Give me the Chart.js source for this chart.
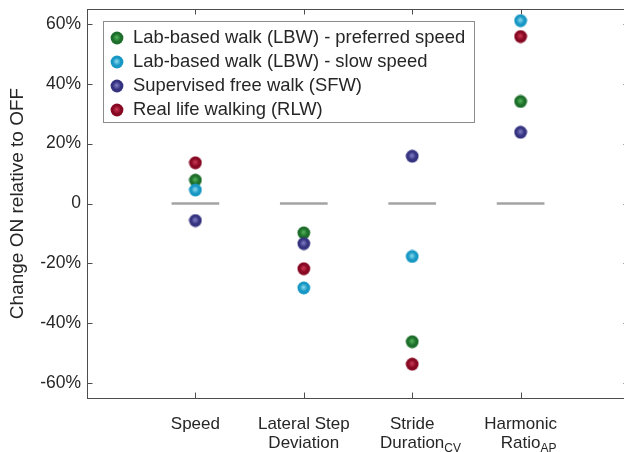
<!DOCTYPE html>
<html>
<head>
<meta charset="utf-8">
<script src="https://cdn.jsdelivr.net/npm/chart.js@4.4.1/dist/chart.umd.min.js"></script>
<style>
    html, body { margin: 0; padding: 0; background: #fff; overflow: hidden; }
    #wrap { width: 640px; height: 452px; }
</style>
</head>
<body>
<div id="wrap"><canvas id="chart" width="640" height="452"></canvas></div>
<script>
// categories and values (percent change ON vs OFF)
const categories = ['Speed', 'Lateral Step\nDeviation', 'Stride\nDuration_CV', 'Harmonic\nRatio_AP'];
const seriesNames = [
    'Lab-based walk (LBW) - preferred speed',
    'Lab-based walk (LBW) - slow speed',
    'Supervised free walk (SFW)',
    'Real life walking (RLW)'
];
const lbwPreferred = [7.8, -9.8, -46.2, 34.1];
const lbwSlow = [4.5, -28.2, -17.7, 61.1];
const sfw = [-5.7, -13.4, 15.8, 23.8];
const rlw = [13.6, -21.8, -53.7, 55.8];
const yTicks = [-60, -40, -20, 0, 20, 40, 60];
const baseline = 0;

// sphere-looking markers: [edge, light centre]
const markerColors = [
    ['#1d6e2a', '#55b85c'],
    ['#1797c4', '#8fdcf0'],
    ['#35337f', '#8482c8'],
    ['#860822', '#d03a58']
];

function makeSphere(edge, light) {
    const c = document.createElement('canvas');
    c.width = 14; c.height = 14;
    const ctx = c.getContext('2d');
    const g = ctx.createRadialGradient(6.6, 6.2, 0, 7, 7, 6.6);
    g.addColorStop(0, light);
    g.addColorStop(0.6, edge);
    g.addColorStop(1, edge);
    ctx.beginPath();
    ctx.arc(7, 7, 6.4, 0, Math.PI * 2);
    ctx.fillStyle = g;
    ctx.fill();
    return c;
}
const sprites = markerColors.map(c => makeSphere(c[0], c[1]));

const allSeries = [lbwPreferred, lbwSlow, sfw, rlw];
const datasets = allSeries.map((vals, i) => ({
    label: seriesNames[i],
    data: vals.map((v, j) => ({ x: j + 1, y: v })),
    pointStyle: sprites[i],
    order: allSeries.length - i  // later series on top
}));

const FONT = '"Liberation Sans", Arial, Helvetica, sans-serif';
const AXIS_COLOR = '#4d4d4d';

// box, inward ticks, zero bars, category labels and legend
const decorPlugin = {
    id: 'decor',
    beforeDatasetsDraw(chart) {
        const { ctx, scales: { x, y } } = chart;
        const y0 = y.getPixelForValue(baseline);
        ctx.save();
        ctx.strokeStyle = '#a3a3a3';
        ctx.lineWidth = 2.5;
        categories.forEach((_, i) => {
            ctx.beginPath();
            ctx.moveTo(x.getPixelForValue(i + 1 - 0.22), y0);
            ctx.lineTo(x.getPixelForValue(i + 1 + 0.22), y0);
            ctx.stroke();
        });
        ctx.restore();
    },
    afterDraw(chart) {
        const { ctx, chartArea: a, scales: { x, y } } = chart;
        ctx.save();
        ctx.strokeStyle = AXIS_COLOR;
        ctx.lineWidth = 1;
        ctx.strokeRect(a.left + 0.5, a.top + 0.5, a.right - a.left, a.bottom - a.top);
        const tl = 5.5;
        ctx.beginPath();
        x.ticks.forEach(t => {
            const px = Math.round(x.getPixelForValue(t.value)) + 0.5;
            ctx.moveTo(px, a.bottom); ctx.lineTo(px, a.bottom - tl);
            ctx.moveTo(px, a.top); ctx.lineTo(px, a.top + tl);
        });
        y.ticks.forEach(t => {
            const py = Math.round(y.getPixelForValue(t.value)) + 0.5;
            ctx.moveTo(a.left, py); ctx.lineTo(a.left + tl, py);
            ctx.moveTo(a.right, py); ctx.lineTo(a.right - tl, py);
        });
        ctx.stroke();

        // category labels with subscripts
        ctx.fillStyle = '#262626';
        ctx.textBaseline = 'middle';
        categories.forEach((cat, i) => {
            const cx = x.getPixelForValue(i + 1);
            cat.split('\n').forEach((line, k) => {
                const ly = a.bottom + 26 + k * 19;
                const parts = line.split('_');
                ctx.font = '17px ' + FONT;
                const w = ctx.measureText(parts[0]).width;
                ctx.textAlign = 'left';
                ctx.fillText(parts[0], cx - w / 2, ly);
                if (parts[1]) {
                    ctx.font = '12px ' + FONT;
                    ctx.fillText(parts[1], cx + w / 2, ly + 6);
                }
            });
        });

        // legend box
        const lx = 103, ly = 21, lw = 371, lh = 101;
        ctx.fillStyle = '#fff';
        ctx.fillRect(lx, ly, lw, lh);
        ctx.strokeStyle = '#8c8c8c';
        ctx.strokeRect(lx + 0.5, ly + 0.5, lw, lh);
        ctx.font = '18.4px ' + FONT;
        ctx.fillStyle = '#262626';
        ctx.textAlign = 'left';
        seriesNames.forEach((name, i) => {
            const ry = ly + 17 + i * 24;
            ctx.drawImage(sprites[i], 117 - 7, ry - 7);
            ctx.fillText(name, 133, ry);
        });
        ctx.restore();
    }
};

new Chart(document.getElementById('chart'), {
    type: 'scatter',
    data: { datasets },
    options: {
        responsive: false,
        animation: false,
        events: [],
        layout: { padding: { top: 9, right: 11, bottom: 0, left: 0 } },
        plugins: { legend: { display: false }, tooltip: { enabled: false } },
        scales: {
            x: {
                type: 'linear',
                min: 0,
                max: categories.length + 1,
                grid: { display: false, drawTicks: false },
                border: { display: false },
                ticks: { display: false },
                afterBuildTicks: s => { s.ticks = categories.map((_, i) => ({ value: i + 1 })); },
                afterFit: s => { s.height = 54; s.paddingLeft = 0; s.paddingRight = 0; }
            },
            y: {
                min: -65,
                max: 65,
                grid: { display: false, drawTicks: false },
                border: { display: false },
                afterBuildTicks: s => { s.ticks = yTicks.map(v => ({ value: v })); },
                ticks: {
                    padding: 6,
                    color: '#262626',
                    font: { family: FONT, size: 17.5 },
                    callback: v => v === 0 ? '0' : v + '%'
                },
                title: {
                    display: true,
                    text: 'Change ON relative to OFF',
                    color: '#262626',
                    font: { family: FONT, size: 19 },
                    padding: { top: 6, bottom: 0 }
                },
                afterFit: s => { s.width = 87; s.paddingTop = 0; s.paddingBottom = 0; }
            }
        }
    },
    plugins: [decorPlugin]
});
</script>
</body>
</html>
